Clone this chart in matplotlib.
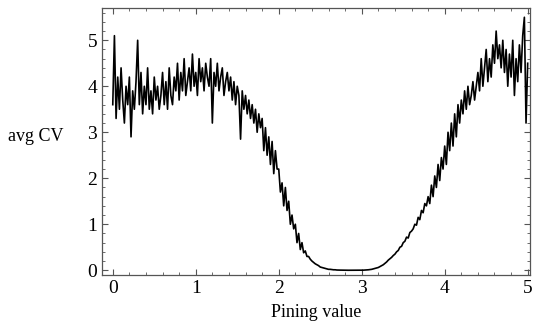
import numpy as np
import matplotlib.pyplot as plt
from matplotlib.ticker import MultipleLocator

# pining value grid (step 0.02) and average CV
pining = np.round(np.arange(0, 5.001, 0.02), 2)
avg_cv = [
    3.6, 5.1, 3.3, 4.2, 3.5, 4.4, 3.7, 3.2, 4.0, 3.6,
    4.2, 2.9, 3.9, 3.5, 4.1, 5.0, 3.6, 4.3, 3.4, 4.0,
    3.6, 4.4, 3.5, 3.9, 3.4, 4.2, 3.7, 4.0, 3.5, 3.8,
    4.3, 3.6, 4.1, 3.5, 4.4, 3.8, 3.6, 4.2, 3.9, 4.5,
    3.7, 4.3, 3.9, 4.6, 3.8, 4.1, 4.4, 3.9, 4.7, 4.0,
    4.3, 3.8, 4.6, 4.1, 4.4, 3.9, 4.5, 4.2, 4.0, 4.6,
    3.2, 4.3, 4.0, 4.5, 3.9, 4.2, 4.4, 3.8, 4.1, 4.3,
    3.9, 4.2, 3.7, 4.1, 3.6, 4.0, 3.8, 2.85, 3.9, 3.5,
    3.8, 3.4, 3.7, 3.3, 3.6, 3.2, 3.5, 3.0, 3.4, 3.1,
    3.3, 2.6, 3.1, 2.5, 2.9, 2.3, 2.8, 2.1, 2.6, 2.2,
    2.2, 1.7, 1.9, 1.4, 1.8, 1.3, 1.5, 1.0, 1.2, 0.9,
    1.0, 0.6, 0.8, 0.45, 0.6, 0.38, 0.42, 0.3, 0.3, 0.24,
    0.2, 0.17, 0.14, 0.12, 0.1, 0.07, 0.06, 0.05, 0.04, 0.03,
    0.02, 0.02, 0.015, 0.01, 0.01, 0.005, 0.005, 0.003, 0.002, 0.001,
    0.0, 0.0, 0.0, 0.0, 0.0, 0.0, 0.0, 0.0, 0.0, 0.0,
    0.001, 0.002, 0.004, 0.006, 0.01, 0.015, 0.02, 0.03, 0.04, 0.05,
    0.06, 0.08, 0.1, 0.12, 0.15, 0.18, 0.22, 0.25, 0.28, 0.32,
    0.35, 0.4, 0.43, 0.5, 0.52, 0.6, 0.63, 0.72, 0.7, 0.82,
    0.85, 0.9, 1.0, 0.98, 1.15, 1.1, 1.3, 1.25, 1.45, 1.4,
    1.6, 1.45, 1.85, 1.6, 2.05, 1.8, 2.3, 1.95, 2.45, 2.2,
    2.7, 2.3, 3.0, 2.6, 3.2, 2.7, 3.4, 2.9, 3.6, 3.2,
    3.7, 3.4, 3.9, 3.5, 4.0, 3.6, 3.8, 4.1, 3.7, 4.0,
    4.3, 3.9, 4.6, 4.0, 4.4, 4.8, 4.1, 4.6, 4.2, 4.9,
    4.5, 5.2, 4.6, 4.9, 4.4, 5.0, 4.3, 4.8, 4.0, 4.7,
    4.2, 5.0, 3.8, 4.6, 4.1, 4.9, 4.3, 5.1, 5.5, 3.2,
    4.5,
]

plt.rcParams['font.family'] = ['Liberation Serif', 'DejaVu Serif']

fig = plt.figure(figsize=(5.41, 3.36), dpi=100)
ax = fig.add_axes([0.1885, 0.182, 0.7915, 0.794])
ax.plot(pining, avg_cv, color='black', linewidth=1.2)

ax.set_xlim(-0.13, 5.03)
ax.set_ylim(-0.1, 5.7)
ax.xaxis.set_major_locator(MultipleLocator(1))
ax.xaxis.set_minor_locator(MultipleLocator(0.2))
ax.yaxis.set_major_locator(MultipleLocator(1))
ax.yaxis.set_minor_locator(MultipleLocator(0.2))
ax.tick_params(which='both', direction='in', top=True, right=True,
               color='#555555', labelsize=14)
ax.tick_params(which='major', length=4, width=0.8)
ax.tick_params(which='minor', length=2, width=0.6)
for s in ax.spines.values():
    s.set_color('#555555')
    s.set_linewidth(0.9)

ax.set_xlabel('Pining value', fontsize=13, labelpad=5)
ax.set_ylabel('avg CV', fontsize=13, rotation=0, ha='right', va='center')
ax.yaxis.set_label_coords(-0.091, 0.52)

fig.savefig('out.png', dpi=100)
